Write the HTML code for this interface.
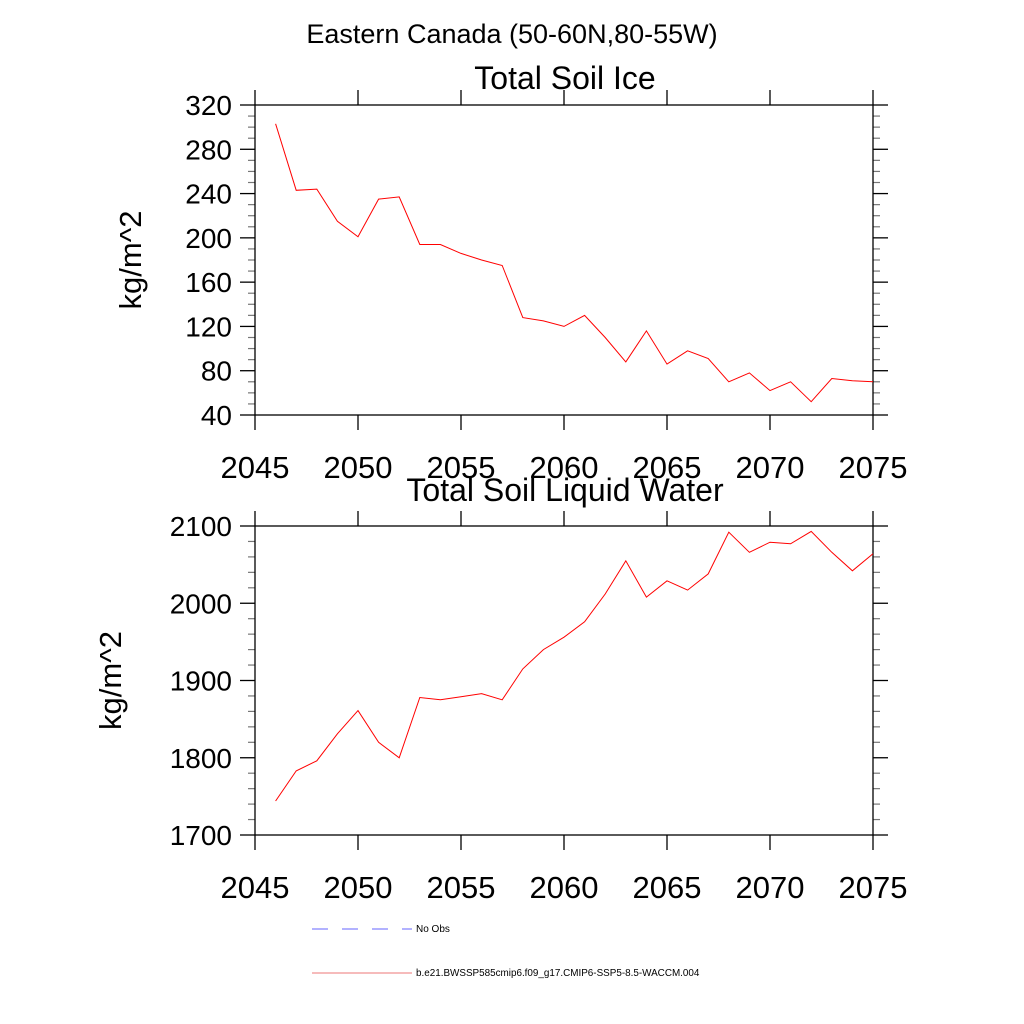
<!DOCTYPE html>
<html><head><meta charset="utf-8"><style>
body{margin:0;background:#fff;}
svg{display:block;font-family:"Liberation Sans",sans-serif;}
</style></head><body>
<svg id="chart" width="1024" height="1024" xmlns="http://www.w3.org/2000/svg">
<text x="512" y="43" text-anchor="middle" font-size="27">Eastern Canada (50-60N,80-55W)</text>
</svg>
<script>
const years = [2046,2047,2048,2049,2050,2051,2052,2053,2054,2055,2056,2057,2058,2059,2060,2061,2062,2063,2064,2065,2066,2067,2068,2069,2070,2071,2072,2073,2074,2075];
const iceValues = [303,243,244,215,201,235,237,194,194,186,180,175,128,125,120,130,110,88,116,86,98,91,70,78,62,70,52,73,71,70];
const liquidValues = [1744,1783,1796,1831,1861,1820,1800,1878,1875,1879,1883,1875,1915,1940,1956,1976,2012,2055,2008,2029,2017,2038,2092,2066,2079,2077,2093,2066,2042,2064];
const xTicks = [2045,2050,2055,2060,2065,2070,2075];
const iceTicks = [40,80,120,160,200,240,280,320];
const liquidTicks = [1700,1800,1900,2000,2100];

const svg = document.getElementById('chart');
const NS = 'http://www.w3.org/2000/svg';
function mk(tag, attrs, parent){
  const e = document.createElementNS(NS, tag);
  for (const k in attrs) e.setAttribute(k, attrs[k]);
  (parent||svg).appendChild(e);
  return e;
}
const L=255, R=873;
const xs = v => L + (v-2045)/30*(R-L);

function panel(name, title, top, bot, ymin, ymax, ticks, minorStep, vals, titleY, ylabelX){
  const g = mk('g', {});
  
  
  const ys = v => bot - (v-ymin)/(ymax-ymin)*(bot-top);
  const t = mk('text', {x:565, y:titleY, 'text-anchor':'middle', 'font-size':32}, g);
  t.textContent = title;
  
  
  for (let v=ymin; v<=ymax+0.001; v+=minorStep){
    if (ticks.includes(v)) continue;
    const y = ys(v);
    mk('line',{x1:L-7,x2:L,y1:y,y2:y,stroke:'#777','stroke-width':1.2},g);
    mk('line',{x1:R,x2:R+7,y1:y,y2:y,stroke:'#777','stroke-width':1.2},g);
  }
  ticks.forEach(v=>{
    const y = ys(v);
    mk('line',{x1:L-15,x2:L,y1:y,y2:y,stroke:'#000','stroke-width':1.3},g);
    mk('line',{x1:R,x2:R+15,y1:y,y2:y,stroke:'#000','stroke-width':1.3},g);
    const tx = mk('text',{x:L-23,y:y+10,'text-anchor':'end','font-size':28},g);
    tx.textContent = v;
    
    
  });
  xTicks.forEach(v=>{
    const x = xs(v);
    mk('line',{x1:x,x2:x,y1:top-15,y2:top,stroke:'#000','stroke-width':1.3},g);
    mk('line',{x1:x,x2:x,y1:bot,y2:bot+15,stroke:'#000','stroke-width':1.3},g);
    const tx = mk('text',{x:x,y:bot+63,'text-anchor':'middle','font-size':31},g);
    tx.textContent = v;
    
    
  });
  const fr = mk('rect',{x:L,y:top,width:R-L,height:bot-top,fill:'none',stroke:'#000','stroke-width':1.3},g);
  
  
  const yl = mk('text',{x:0,y:0,'text-anchor':'middle','font-size':31,transform:`translate(${ylabelX},${(top+bot)/2}) rotate(-90)`},g);
  yl.textContent = 'kg/m^2';
  
  
  const pts = years.map((y,i)=>xs(y).toFixed(1)+','+ys(vals[i]).toFixed(1)).join(' ');
  const pl = mk('polyline',{points:pts,fill:'none',stroke:'#ff0000','stroke-width':1},g);
  
  
}
panel('soil-ice-panel','Total Soil Ice',105,415,40,320,iceTicks,10,iceValues,89,141);
panel('soil-liquid-panel','Total Soil Liquid Water',526,835,1700,2100,liquidTicks,20,liquidValues,501,121);

const lg = mk('g',{});


mk('line',{x1:312,x2:412,y1:929,y2:929,stroke:'#6666ff','stroke-width':1,'stroke-dasharray':'16 14'},lg);
const t1 = mk('text',{x:416,y:932,'font-size':10},lg); t1.textContent='No Obs';


mk('line',{x1:312,x2:412,y1:973,y2:973,stroke:'#ee7777','stroke-width':1},lg);
const t2 = mk('text',{x:416,y:976,'font-size':9.9},lg); t2.textContent='b.e21.BWSSP585cmip6.f09_g17.CMIP6-SSP5-8.5-WACCM.004';


</script>
</body></html>
